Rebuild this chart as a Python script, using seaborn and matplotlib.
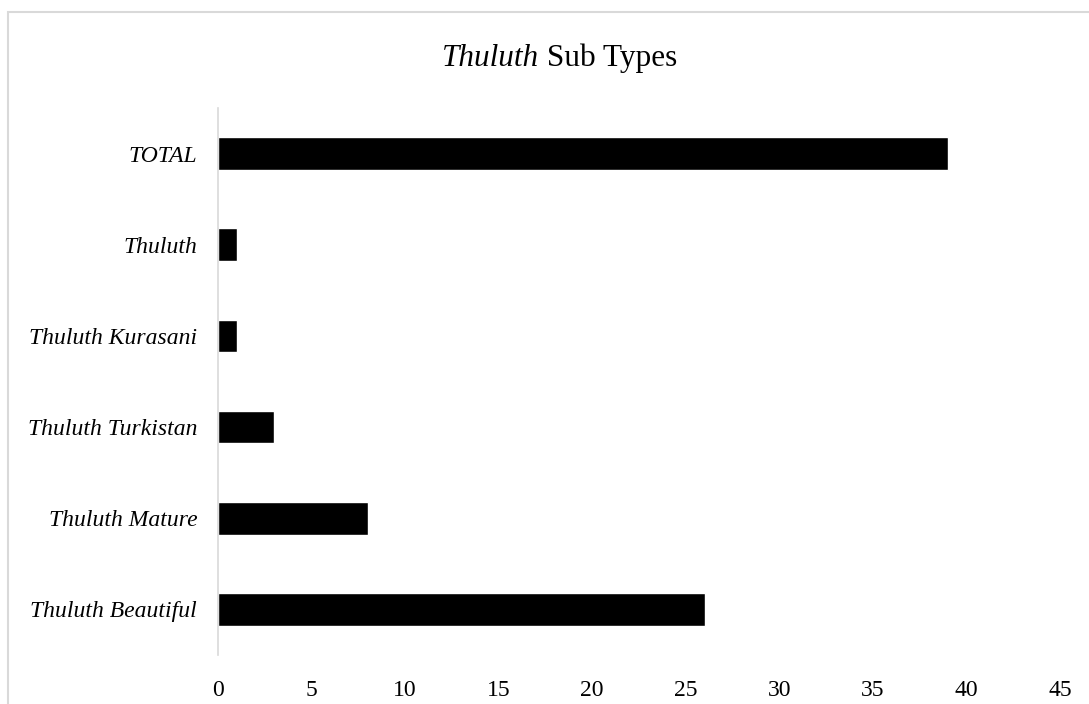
import matplotlib
matplotlib.use("Agg")
import matplotlib.pyplot as plt
import seaborn as sns
import pandas as pd
from matplotlib.patches import Rectangle

categories = ["TOTAL", "Thuluth", "Thuluth Kurasani", "Thuluth Turkistan",
              "Thuluth Mature", "Thuluth Beautiful"]
counts = [39, 1, 1, 3, 8, 26]
x_ticks = [0, 5, 10, 15, 20, 25, 30, 35, 40, 45]

sns.set_theme(style="white")
plt.rcParams["font.family"] = ["Liberation Serif", "DejaVu Serif"]
plt.rcParams["text.color"] = "black"
plt.rcParams["xtick.color"] = "black"
plt.rcParams["ytick.color"] = "black"

df = pd.DataFrame({"category": categories, "count": counts})

fig = plt.figure(figsize=(10.89, 7.04), dpi=100)
ax = fig.add_axes([0.2002, 0.0696, 0.7732, 0.777])

sns.barplot(data=df, x="count", y="category", order=categories,
            color="black", width=0.36, saturation=1, ax=ax)

ax.set_xlim(0, 45)
ax.set_ylim(5.5, -0.5)
ax.set_xticks(x_ticks)
ax.set_xticklabels([str(t) for t in x_ticks], fontsize=17)
ax.tick_params(axis="x", length=0, pad=18, labelcolor="black")
ax.tick_params(axis="y", length=0, pad=15, labelcolor="black")
for lbl in ax.get_yticklabels():
    lbl.set_fontstyle("italic")
    lbl.set_fontsize(17)
ax.set_xlabel("")
ax.set_ylabel("")

for side in ("top", "right", "bottom"):
    ax.spines[side].set_visible(False)
ax.spines["left"].set_color("#d9d9d9")
ax.spines["left"].set_linewidth(1.2)

# Chart title: italic script name followed by upright text
title_y = 1 - 58 / 704
t1 = fig.text(0.0, title_y, "Thuluth", fontstyle="italic", fontsize=22.5,
              ha="left", va="center", color="black")
t2 = fig.text(0.0, title_y, " Sub Types", fontsize=22.5, ha="left",
              va="center", color="black")
fig.canvas.draw()
r = fig.canvas.get_renderer()
w1 = t1.get_window_extent(r).width
w2 = t2.get_window_extent(r).width
W = fig.bbox.width
cx = 559.5
x0 = (cx - (w1 + w2) / 2) / W
t1.set_x(x0)
t2.set_x(x0 + w1 / W)

# Outer frame of the chart area
fig.patches.append(Rectangle((8 / 1089, -0.05), 1.2, 1 - 12 / 704 + 0.05,
                             transform=fig.transFigure, fill=False,
                             edgecolor="#d9d9d9", linewidth=1.5))

fig.savefig("out.png", dpi=100)
